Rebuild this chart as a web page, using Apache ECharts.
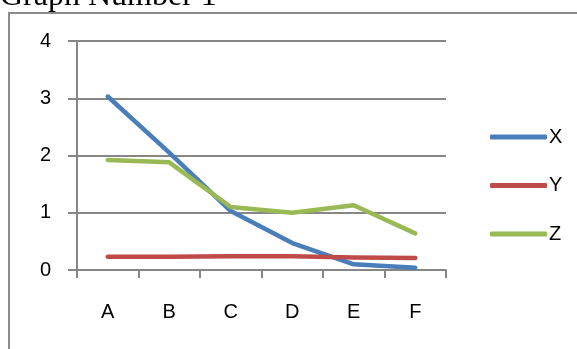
<!DOCTYPE html>
<html>
<head>
<meta charset="utf-8">
<script src="https://cdn.jsdelivr.net/npm/echarts@6/dist/echarts.min.js"></script>
<style>html,body{margin:0;padding:0;background:#fff;}#c{width:577px;height:349px;}</style>
</head>
<body>
<div id="c"></div>
<script>
const categories = ['A', 'B', 'C', 'D', 'E', 'F'];
const seriesNames = ['X', 'Y', 'Z'];
const xValues = [3.03, 2.05, 1.03, 0.47, 0.10, 0.04];
const yValues = [0.23, 0.23, 0.24, 0.24, 0.22, 0.21];
const zValues = [1.92, 1.88, 1.10, 1.00, 1.13, 0.64];
const yTicks = [0, 1, 2, 3, 4];
const colors = ['#4A7EBB', '#BE4B48', '#98B954'];
const titleText = 'Graph Number 1';

const chart = echarts.init(document.getElementById('c'), null, {renderer: 'canvas'});
const font = 'Liberation Sans';
const data = [xValues, yValues, zValues];
chart.setOption({
  animation: false,
  backgroundColor: '#fff',
  color: colors,
  graphic: [
    {type: 'rect', shape: {x: 9, y: 13, width: 700, height: 500}, style: {fill: 'none', stroke: '#8C8C8C', lineWidth: 2}, silent: true},
    {type: 'text', x: 0, y: -3, style: {text: titleText, font: '32px "Liberation Serif"', fill: '#000', verticalAlign: 'middle'}}
  ],
  grid: {left: 77, right: 131, top: 41, bottom: 79, containLabel: false},
  legend: {
    orient: 'vertical', left: 485, top: 122, itemGap: 28.5,
    itemWidth: 57, itemHeight: 5, icon: 'roundRect',
    textStyle: {fontFamily: font, fontSize: 20, color: '#000', padding: [0, 0, 0, -3]},
    data: seriesNames
  },
  xAxis: {
    type: 'category', data: categories, boundaryGap: true,
    axisLine: {lineStyle: {color: '#868686', width: 2}},
    axisTick: {show: true, length: 8, lineStyle: {color: '#868686', width: 2}},
    axisLabel: {fontFamily: font, fontSize: 20, color: '#000', margin: 32}
  },
  yAxis: {
    type: 'value', min: yTicks[0], max: yTicks[yTicks.length - 1], interval: 1,
    axisLine: {show: true, lineStyle: {color: '#868686', width: 2}},
    axisTick: {show: true, length: 9, lineStyle: {color: '#868686', width: 2}},
    splitLine: {show: true, lineStyle: {color: '#868686', width: 2}},
    axisLabel: {fontFamily: font, fontSize: 20, color: '#000', margin: 26}
  },
  series: seriesNames.map((n, i) => ({
    name: n, type: 'line', data: data[i], symbol: 'none', smooth: false,
    lineStyle: {width: 4.5, color: colors[i], cap: 'round', join: 'round'},
    itemStyle: {color: colors[i]}
  }))
});
</script>
</body>
</html>
